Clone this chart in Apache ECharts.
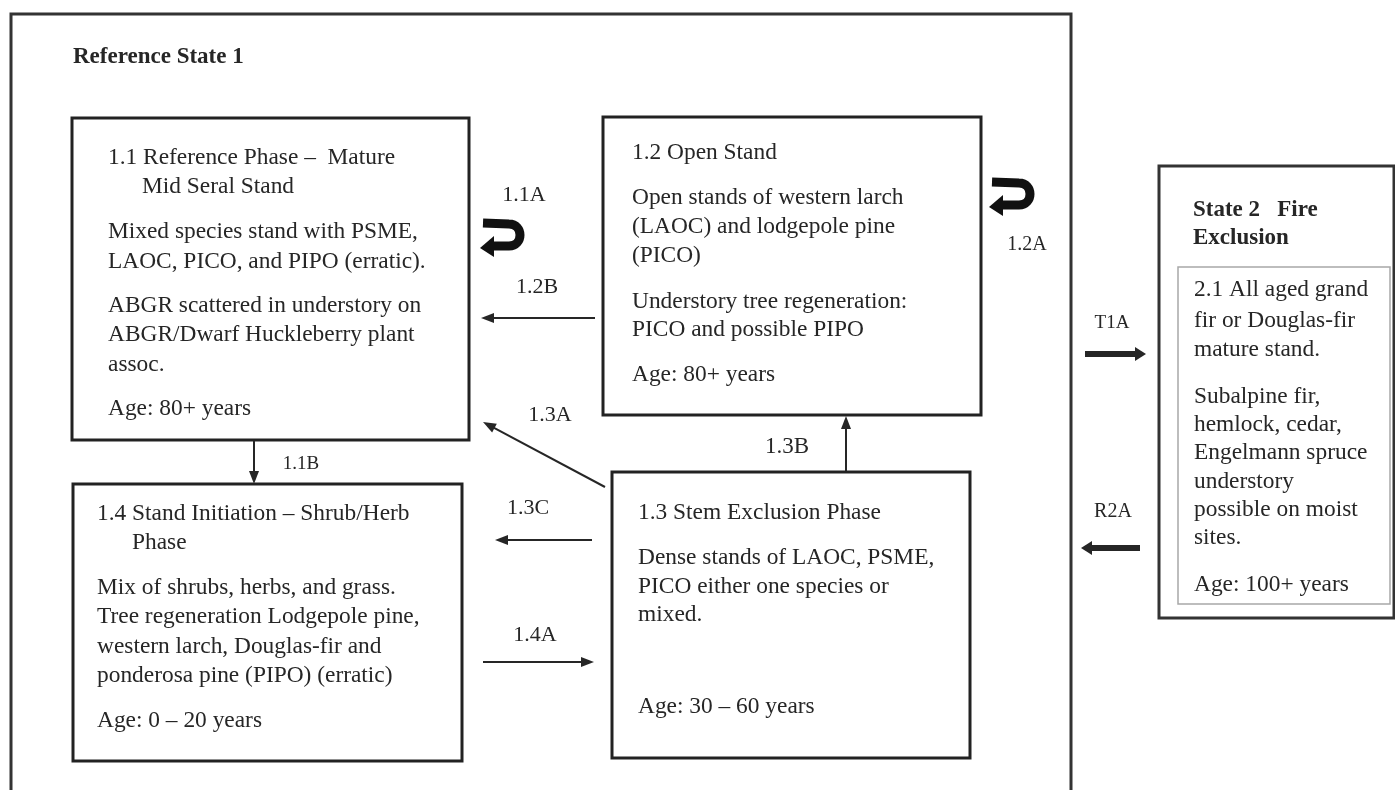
<!DOCTYPE html>
<html><head><meta charset="utf-8">
<script src="https://cdn.jsdelivr.net/npm/echarts@6/dist/echarts.min.js"></script>
<style>html,body{margin:0;padding:0;background:#fff;}#main{width:1395px;height:790px;}</style>
</head><body><div id="main"></div>
<script>
// ---- diagram data (diagram units: x 0..1395, y 0..790 downward) ----
const stateFrames = [[11, 14, 1071, 800], [1159, 166, 1394, 618]];
const phaseBoxes = [[72, 118, 469, 440], [603, 117, 981, 415], [612, 472, 970, 758], [73, 484, 462, 761]];
const communityBoxes = [[1178, 267, 1390, 604]];

const headingLines = [
  [73, 57, "Reference State 1"],
  [1193, 210, "State 2   Fire"],
  [1193, 238, "Exclusion"]
];

const bodyLines = [
  [108, 158, "1.1 Reference Phase \u2013  Mature"],
  [142, 187, "Mid Seral Stand"],
  [108, 232, "Mixed species stand with PSME,"],
  [108, 262, "LAOC, PICO, and PIPO (erratic)."],
  [108, 306, "ABGR scattered in understory on"],
  [108, 335, "ABGR/Dwarf Huckleberry plant"],
  [108, 365, "assoc."],
  [108, 409, "Age: 80+ years"],

  [632, 153, "1.2 Open Stand"],
  [632, 198, "Open stands of western larch"],
  [632, 227, "(LAOC) and lodgepole pine"],
  [632, 256, "(PICO)"],
  [632, 302, "Understory tree regeneration:"],
  [632, 330, "PICO and possible PIPO"],
  [632, 375, "Age: 80+ years"],

  [638, 513, "1.3 Stem Exclusion Phase"],
  [638, 558, "Dense stands of LAOC, PSME,"],
  [638, 587, "PICO either one species or"],
  [638, 615, "mixed."],
  [638, 707, "Age: 30 \u2013 60 years"],

  [97, 514, "1.4 Stand Initiation \u2013 Shrub/Herb"],
  [132, 543, "Phase"],
  [97, 588, "Mix of shrubs, herbs, and grass."],
  [97, 617, "Tree regeneration Lodgepole pine,"],
  [97, 647, "western larch, Douglas-fir and"],
  [97, 676, "ponderosa pine (PIPO) (erratic)"],
  [97, 721, "Age: 0 \u2013 20 years"],

  [1194, 290, "2.1 All aged grand"],
  [1194, 321, "fir or Douglas-fir"],
  [1194, 350, "mature stand."],
  [1194, 397, "Subalpine fir,"],
  [1194, 425, "hemlock, cedar,"],
  [1194, 453, "Engelmann spruce"],
  [1194, 482, "understory"],
  [1194, 510, "possible on moist"],
  [1194, 538, "sites."],
  [1194, 585, "Age: 100+ years"]
];

const transitionLabels = [
  [524, 195, "1.1A"],
  [537, 287, "1.2B"],
  [550, 415, "1.3A"],
  [301, 464, "1.1B"],
  [528, 508, "1.3C"],
  [535, 635, "1.4A"],
  [787, 447, "1.3B"],
  [1027, 245, "1.2A"],
  [1112, 323, "T1A"],
  [1113, 512, "R2A"]
];

// [fromX, fromY, toX, toY]
const thinArrows = [
  [595, 318, 481, 318],
  [605, 487, 483, 422],
  [254, 441, 254, 484],
  [592, 540, 495, 540],
  [483, 662, 594, 662],
  [846, 471, 846, 416]
];
const thickArrows = [
  [1085, 354, 1146, 354],
  [1140, 548, 1081, 548]
];
// [leftX, rightX, topY, bottomY] of the loop centre line
const loopArrows = [
  [481, 520, 224, 246],
  [990, 1030, 183, 205]
];

// ---- styles (kept separate from data) ----
const INK = '#262626';
const FONT = '"Liberation Serif", "Times New Roman", serif';
const labelSize = { "1.1B": 19, "T1A": 19, "R2A": 20, "1.2A": 20, "1.3B": 23 };

function boxRender(lineWidth, stroke) {
  return function (params, api) {
    const p0 = api.coord([api.value(0), api.value(1)]);
    const p1 = api.coord([api.value(2), api.value(3)]);
    return { type: 'rect', shape: { x: p0[0], y: p0[1], width: p1[0] - p0[0], height: p1[1] - p0[1] },
      style: { fill: 'none', stroke: stroke, lineWidth: lineWidth } };
  };
}
function textRender(list, font, align) {
  return function (params, api) {
    const p = api.coord([api.value(0), api.value(1)]);
    const item = list[params.dataIndex];
    const f = typeof font === 'function' ? font(item[2]) : font;
    return { type: 'text', x: p[0], y: p[1],
      style: { text: item[2], font: f, fill: INK, align: align, verticalAlign: 'middle' } };
  };
}
function arrowRender(headLen, headHalf, lineW) {
  return function (params, api) {
    const a = api.coord([api.value(0), api.value(1)]);
    const b = api.coord([api.value(2), api.value(3)]);
    const dx = b[0] - a[0], dy = b[1] - a[1], L = Math.hypot(dx, dy), ux = dx / L, uy = dy / L;
    const base = [b[0] - ux * headLen, b[1] - uy * headLen];
    const nx = -uy, ny = ux;
    return { type: 'group', children: [
      { type: 'line', shape: { x1: a[0], y1: a[1], x2: base[0] + ux, y2: base[1] + uy },
        style: { stroke: INK, lineWidth: lineW } },
      { type: 'polygon', shape: { points: [[b[0], b[1]],
          [base[0] + nx * headHalf, base[1] + ny * headHalf],
          [base[0] - nx * headHalf, base[1] - ny * headHalf]] },
        style: { fill: INK } }
    ] };
  };
}
function loopRender(params, api) {
  const p0 = api.coord([api.value(0), api.value(2)]);
  const p1 = api.coord([api.value(1), api.value(3)]);
  const Lx = p0[0], Rx = p1[0], T = p0[1], B = p1[1], r = (B - T) / 2, cx = Rx - r, k = r * 1.333;
  const d = 'M' + (Lx + 2) + ' ' + (T - 1) + ' L' + cx + ' ' + T +
    ' C' + (cx + k) + ' ' + T + ' ' + (cx + k) + ' ' + B + ' ' + cx + ' ' + B +
    ' L' + (Lx + 11) + ' ' + B;
  return { type: 'group', children: [
    { type: 'path', shape: { pathData: d }, style: { fill: 'none', stroke: '#111', lineWidth: 9 } },
    { type: 'polygon', shape: { points: [[Lx - 1, B + 2], [Lx + 13, B - 10], [Lx + 13, B + 11]] },
      style: { fill: '#111' } }
  ] };
}

const chart = echarts.init(document.getElementById('main'), null, { renderer: 'canvas' });
const base = { type: 'custom', coordinateSystem: 'cartesian2d', silent: true, clip: false };
chart.setOption({
  animation: false,
  backgroundColor: '#ffffff',
  grid: { left: 0, right: 0, top: 0, bottom: 0 },
  xAxis: { type: 'value', min: 0, max: 1395, show: false },
  yAxis: { type: 'value', min: 0, max: 790, inverse: true, show: false },
  series: [
    Object.assign({}, base, { name: 'states', data: stateFrames, renderItem: boxRender(3, '#333') }),
    Object.assign({}, base, { name: 'phases', data: phaseBoxes, renderItem: boxRender(3, '#222') }),
    Object.assign({}, base, { name: 'community', data: communityBoxes, renderItem: boxRender(1.5, '#a8a8a8') }),
    Object.assign({}, base, { name: 'headings', data: headingLines.map(r => [r[0], r[1]]),
      renderItem: textRender(headingLines, 'bold 23px ' + FONT, 'left') }),
    Object.assign({}, base, { name: 'body', data: bodyLines.map(r => [r[0], r[1]]),
      renderItem: textRender(bodyLines, '23.4px ' + FONT, 'left') }),
    Object.assign({}, base, { name: 'labels', data: transitionLabels.map(r => [r[0], r[1]]),
      renderItem: textRender(transitionLabels, t => (labelSize[t] || 22) + 'px ' + FONT, 'center') }),
    Object.assign({}, base, { name: 'thin', data: thinArrows, renderItem: arrowRender(13, 5, 2) }),
    Object.assign({}, base, { name: 'thick', data: thickArrows, renderItem: arrowRender(11, 7, 6) }),
    Object.assign({}, base, { name: 'loops', data: loopArrows, renderItem: loopRender })
  ]
});
</script>
</body></html>
